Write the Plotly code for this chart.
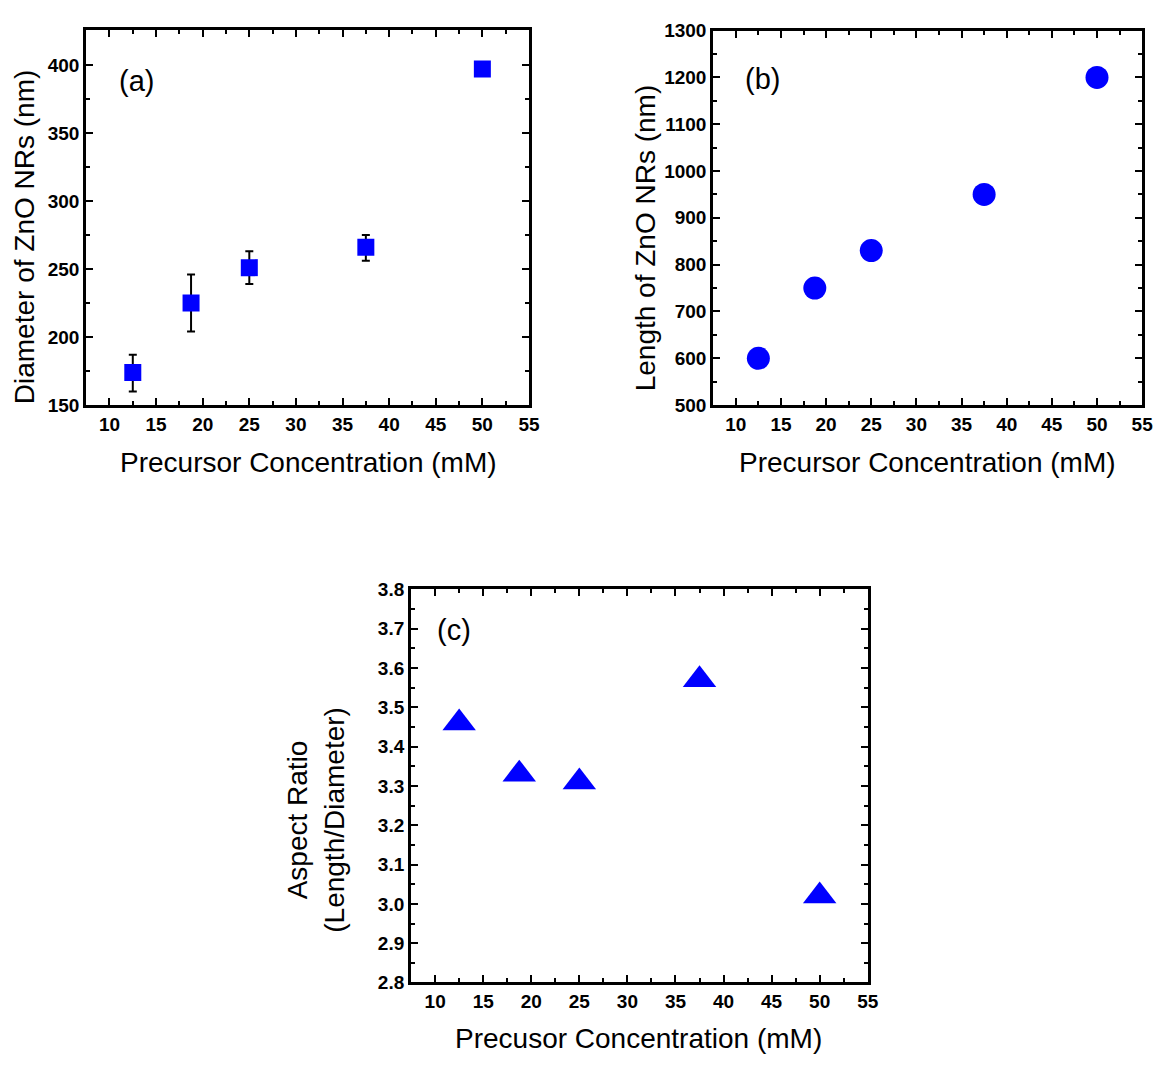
import plotly.graph_objects as go

# ---- data ----
conc = [12.5, 18.75, 25, 37.5, 50]
diameter = [174, 225, 251, 266, 397]
diameter_err_plus = [13, 21, 12, 9, 5]
diameter_err_minus = [14, 21, 12, 10, 5]
length = [600, 750, 830, 950, 1200]
aspect = [3.46, 3.33, 3.31, 3.57, 3.02]

W, H = 1169, 1068
BLUE = "#0000FF"
FONT = "Liberation Sans Narrow, Arial Narrow, Liberation Sans, Arial, sans-serif"

def px_x(x):
    return x / W

def px_y(y):
    return 1 - y / H

fig = go.Figure()

fig.add_trace(go.Scatter(
    x=conc, y=diameter, mode="markers",
    marker=dict(symbol="square", size=17, color=BLUE),
    error_y=dict(type="data", symmetric=False, array=diameter_err_plus,
                 arrayminus=diameter_err_minus, color="black", thickness=2, width=4),
    xaxis="x", yaxis="y", showlegend=False))

fig.add_trace(go.Scatter(
    x=conc, y=length, mode="markers",
    marker=dict(symbol="circle", size=23, color=BLUE),
    xaxis="x2", yaxis="y2", showlegend=False))

fig.add_trace(go.Scatter(
    x=conc, y=aspect, mode="markers",
    marker=dict(symbol="triangle-up", size=29, color=BLUE),
    xaxis="x3", yaxis="y3", showlegend=False))

tickfont = dict(family=FONT, size=19, color="black", weight="bold")

def axis_common(dtick, minor_dtick, rng, domain, anchor, fmt=None):
    d = dict(
        range=rng, domain=domain, anchor=anchor,
        showline=True, linewidth=3, linecolor="black", mirror="allticks",
        ticks="inside", ticklen=7, tickwidth=2, tickcolor="black",
        dtick=dtick, showgrid=False, zeroline=False,
        tickfont=tickfont,
        minor=dict(ticks="inside", ticklen=4, tickwidth=2, tickcolor="black",
                   dtick=minor_dtick, showgrid=False),
    )
    if fmt:
        d["tickformat"] = fmt
    return d

xa = axis_common(5, 2.5, [7.5, 55], [px_x(87), px_x(534)], "y")
xa["tick0"] = 10
xa["minor"]["tick0"] = 7.5
ya = axis_common(50, 25, [150, 425.6], [px_y(403), px_y(20.5)], "x")

xb = axis_common(5, 2.5, [7.5, 55], [px_x(720), px_x(1153)], "y2")
xb["tick0"] = 10
xb["minor"]["tick0"] = 7.5
yb = axis_common(100, 50, [500, 1300], [px_y(403), px_y(21)], "x2")

xc = axis_common(5, 2.5, [7.5, 55], [px_x(415), px_x(876)], "y3")
xc["tick0"] = 10
xc["minor"]["tick0"] = 7.5
yc = axis_common(0.1, 0.05, [2.8, 3.8], [px_y(992), px_y(591)], "x3", fmt=".1f")

titlefont = dict(family=FONT, size=28, color="black")
labelfont = dict(family=FONT, size=29, color="black")

annotations = [
    dict(text="Precursor Concentration (mM)", x=px_x(311), y=px_y(462)),
    dict(text="Diameter of ZnO NRs (nm)", x=px_x(25), y=px_y(231), textangle=-90),
    dict(text="Precursor Concentration (mM)", x=px_x(936), y=px_y(462)),
    dict(text="Length of ZnO NRs (nm)", x=px_x(652), y=px_y(232), textangle=-90),
    dict(text="Precusor Concentration (mM)", x=px_x(645), y=px_y(1049)),
    dict(text="Aspect Ratio<br>(Length/Diameter)", x=px_x(319), y=px_y(826), textangle=-90),
]
annos = []
for a in annotations:
    a.update(xref="paper", yref="paper", showarrow=False, font=titlefont,
             xanchor="center", yanchor="middle")
    annos.append(a)

for txt, x, y in [("(a)", 138, 72), ("(b)", 770, 70), ("(c)", 458, 632)]:
    annos.append(dict(text=txt, x=px_x(x), y=px_y(y), xref="paper", yref="paper",
                      showarrow=False, font=labelfont, xanchor="center", yanchor="middle"))

fig.update_layout(
    width=W, height=H,
    margin=dict(l=0, r=0, t=0, b=0),
    paper_bgcolor="white", plot_bgcolor="white",
    xaxis=xa, yaxis=ya, xaxis2=xb, yaxis2=yb, xaxis3=xc, yaxis3=yc,
    annotations=annos,
    showlegend=False,
)

fig.write_html("out.html")
